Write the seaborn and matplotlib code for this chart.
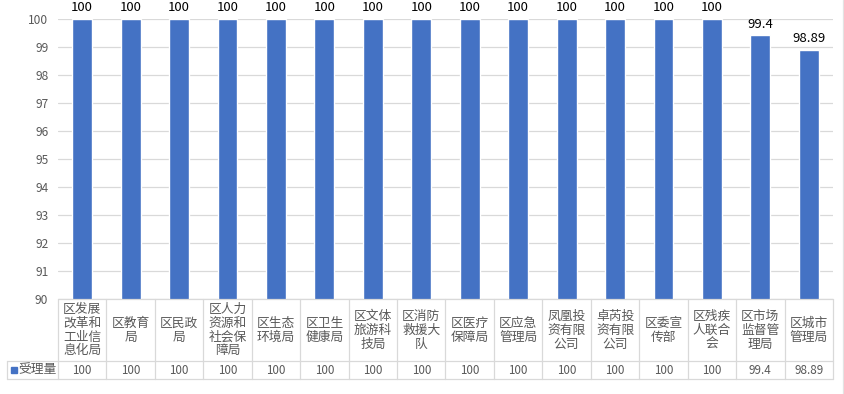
import textwrap
import matplotlib
matplotlib.use("Agg")
import matplotlib.pyplot as plt
import matplotlib.transforms as mtransforms
import seaborn as sns
import pandas as pd

categories = ["区发展改革和工业信息化局", "区教育局", "区民政局", "区人力资源和社会保障局",
              "区生态环境局", "区卫生健康局", "区文体旅游科技局", "区消防救援大队",
              "区医疗保障局", "区应急管理局", "凤凰投资有限公司", "卓芮投资有限公司",
              "区委宣传部", "区残疾人联合会", "区市场监督管理局", "区城市管理局"]
values = [100, 100, 100, 100, 100, 100, 100, 100, 100, 100, 100, 100, 100, 100, 99.4, 98.89]
series_name = "受理量"
y_ticks = [90, 91, 92, 93, 94, 95, 96, 97, 98, 99, 100]

sns.set_theme(style="white")
plt.rcParams["font.family"] = ["Noto Sans CJK SC", "DejaVu Sans"]

BAR = "#4472C4"
GRID = "#D9D9D9"
TXT = "#595959"

W, H = 845, 394
fig = plt.figure(figsize=(W / 100, H / 100), dpi=100)
fig.patch.set_facecolor("white")

left, right = 58, 833
top, bottom = 18.5, 298.5
ax = fig.add_axes([left / W, 1 - bottom / H, (right - left) / W, (bottom - top) / H])

df = pd.DataFrame({"cat": categories, "val": values})
sns.barplot(data=df, x="cat", y="val", color=BAR, width=0.41, ax=ax, saturation=1)
ax.set_ylim(y_ticks[0], y_ticks[-1])
ax.set_xlim(-0.5, len(categories) - 0.5)
ax.set_yticks(y_ticks)
ax.set_yticklabels([str(t) for t in y_ticks], color=TXT, fontsize=8.6)
ax.tick_params(axis="y", length=0, pad=7)
ax.set_xticks([])
ax.set_xlabel("")
ax.set_ylabel("")
ax.grid(axis="y", color=GRID, linewidth=0.9)
ax.set_axisbelow(True)
for s in ax.spines.values():
    s.set_visible(False)
ax.patch.set_alpha(0)

ax.bar_label(ax.containers[0], labels=[f"{v:g}" for v in values], padding=3,
             fontsize=9.5, color="black")

# overlay axes in pixel coordinates for table
tax = fig.add_axes([0, 0, 1, 1])
tax.set_xlim(0, W)
tax.set_ylim(H, 0)
tax.axis("off")
tax.patch.set_alpha(0)
bt = mtransforms.blended_transform_factory(ax.transData, tax.transData)

n = len(categories)
row1_bot, row2_bot = 361, 379
x0, x1 = -0.5, n - 0.5
lw = 0.9
tax.plot([x0, x1], [bottom, bottom], color=GRID, lw=lw, transform=bt, clip_on=False)
for i in range(n + 1):
    tax.plot([i - 0.5, i - 0.5], [bottom, row2_bot], color=GRID, lw=lw, transform=bt, clip_on=False)
right_px = ax.transData.transform((x1, 0))[0]
for yy in (row1_bot, row2_bot):
    tax.plot([7, right_px], [yy, yy], color=GRID, lw=lw, clip_on=False)
tax.plot([7, 7], [row1_bot, row2_bot], color=GRID, lw=lw, clip_on=False)
tax.plot([843, 843], [0, H], color="#E3E3E3", lw=lw, clip_on=False)

for i, (c, v) in enumerate(zip(categories, values)):
    wrapped = "\n".join(textwrap.wrap(c, 3))
    tax.text(i, (bottom + row1_bot) / 2 + 0.5, wrapped, transform=bt, ha="center", va="center",
             fontsize=9.2, color=TXT, linespacing=1.08)
    tax.text(i, (row1_bot + row2_bot) / 2, f"{v:g}", transform=bt, ha="center", va="center",
             fontsize=8.4, color=TXT)

tax.add_patch(plt.Rectangle((11, 367), 6, 6, color=BAR))
tax.text(18, (row1_bot + row2_bot) / 2, series_name, ha="left", va="center", fontsize=9.2, color=TXT)

fig.savefig("out.png", dpi=100)
